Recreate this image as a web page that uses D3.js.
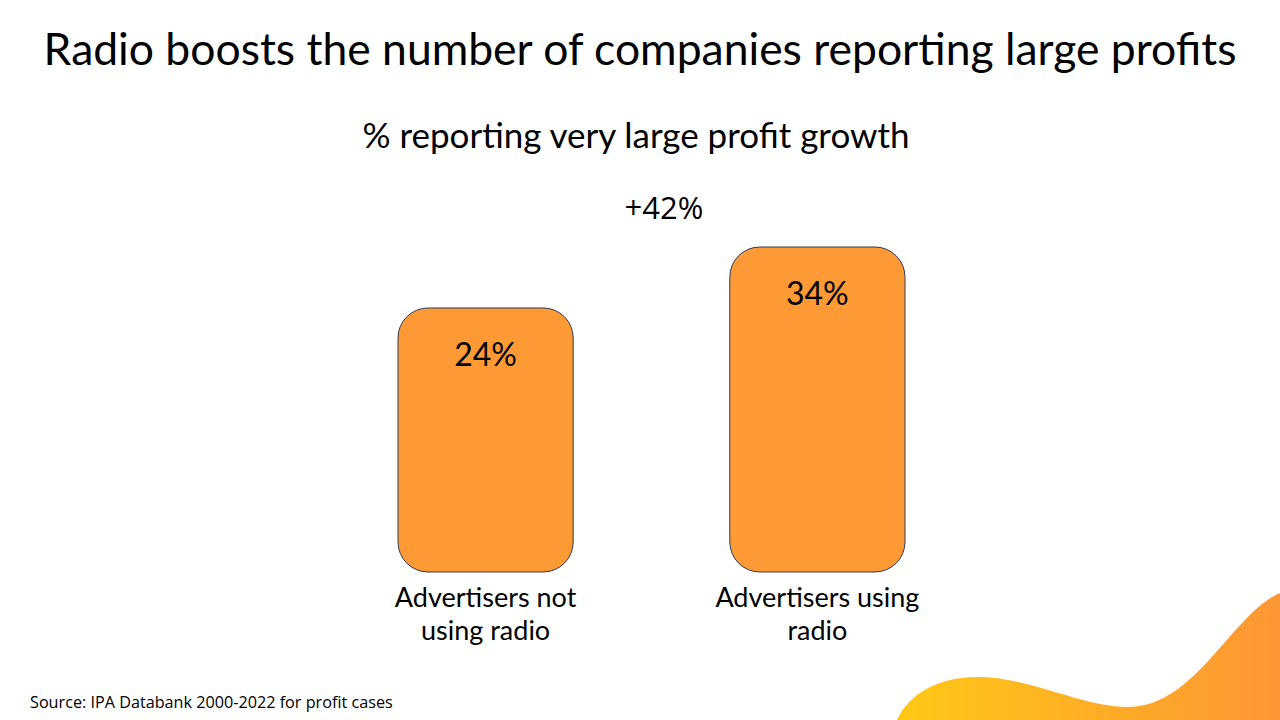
<!DOCTYPE html>
<html>
<head>
<meta charset="utf-8">
<script src="https://cdn.jsdelivr.net/npm/d3@7"></script>
<style>
  html, body { margin: 0; padding: 0; background: #fff; overflow: hidden; }
  text { fill: #000; }
</style>
</head>
<body>
<div id="chart"></div>
<script>
// Chart data
const categories = ["Advertisers not using radio", "Advertisers using radio"];
const labelLines = [["Advertisers not", "using radio"], ["Advertisers using", "radio"]];
const values = [24, 34];
const valueLabels = ["24%", "34%"];
const upliftLabel = "+42%";

const width = 1280, height = 720;

const svg = d3.select("#chart")
    .append("svg")
    .attr("width", width)
    .attr("height", height);

// shrink/grow a text node so it spans the wanted width
function fit(sel, target) {
    const node = sel.node();
    const size = parseFloat(sel.attr("font-size"));
    const w = node.getComputedTextLength();
    sel.attr("font-size", (size * target / w).toFixed(2));
}

// Decorative wave, bottom right
const grad = svg.append("defs").append("linearGradient")
    .attr("id", "wave")
    .attr("x1", "0%").attr("x2", "100%").attr("y1", "0%").attr("y2", "0%");
grad.append("stop").attr("offset", "0%").attr("stop-color", "#fec815");
grad.append("stop").attr("offset", "100%").attr("stop-color", "#fd9634");

svg.append("path")
    .attr("d", "M897,720 C910,692 940,677 978,677 C1030,677 1082,707 1128,707 C1180,707 1215,650 1245,620 C1258,606 1270,597 1280,593 L1280,720 Z")
    .attr("fill", "url(#wave)");

// Title
const title = svg.append("text")
    .attr("x", 640).attr("y", 65)
    .attr("text-anchor", "middle")
    .attr("font-family", "Lato")
    .attr("font-size", 38)
    .text("Radio boosts the number of companies reporting large profits");
fit(title, 1193);

const subtitle = svg.append("text")
    .attr("x", 636).attr("y", 148)
    .attr("text-anchor", "middle")
    .attr("font-family", "Lato")
    .attr("font-size", 30)
    .text("% reporting very large profit growth");
fit(subtitle, 547);

svg.append("text")
    .attr("x", 664).attr("y", 219)
    .attr("text-anchor", "middle")
    .attr("font-family", "Open Sans")
    .attr("font-size", 31)
    .text(upliftLabel);

// Scales
const x = d3.scaleBand()
    .domain(categories)
    .range([398, 905])
    .paddingInner(0.472)
    .paddingOuter(0);

const baseline = 572;
const y = d3.scaleLinear()
    .domain([-19.3, 34])
    .range([baseline, 247]);

const data = categories.map((c, i) => ({ cat: c, value: values[i], label: valueLabels[i], lines: labelLines[i] }));

// Bars
svg.selectAll(".bar")
    .data(data)
    .enter()
    .append("rect")
    .attr("class", "bar")
    .attr("x", d => x(d.cat))
    .attr("y", d => y(d.value))
    .attr("width", x.bandwidth())
    .attr("height", d => baseline - y(d.value))
    .attr("rx", 30).attr("ry", 30)
    .attr("fill", "#fd9a35")
    .attr("stroke", "#2e3a55")
    .attr("stroke-width", 1);

// Value labels inside bars
svg.selectAll(".val")
    .data(data)
    .enter()
    .append("text")
    .attr("class", "val")
    .attr("x", d => x(d.cat) + x.bandwidth() / 2)
    .attr("y", d => y(d.value) + 58)
    .attr("text-anchor", "middle")
    .attr("font-family", "Lato")
    .attr("font-size", 32)
    .text(d => d.label);

// Category labels, one text per line
const cats = svg.selectAll(".cat")
    .data(data)
    .enter()
    .append("g")
    .attr("class", "cat");

cats.selectAll("text")
    .data(d => d.lines.map(l => ({ l, cx: x(d.cat) + x.bandwidth() / 2 })))
    .enter()
    .append("text")
    .attr("x", t => t.cx)
    .attr("y", (t, i) => 607 + i * 33)
    .attr("text-anchor", "middle")
    .attr("font-family", "Lato")
    .attr("font-size", 27)
    .text(t => t.l);

// Source note
svg.append("text")
    .attr("x", 30).attr("y", 708)
    .attr("font-family", "Open Sans")
    .attr("font-size", 16.2)
    .text("Source: IPA Databank 2000-2022 for profit cases");
</script>
</body>
</html>
